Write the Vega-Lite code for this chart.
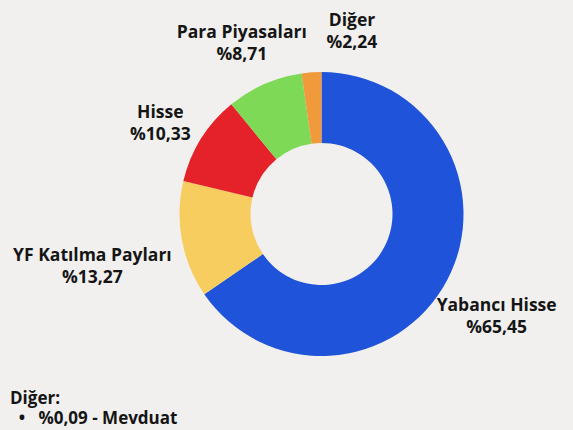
{
  "$schema": "https://vega.github.io/schema/vega-lite/v6.json",
  "autosize": "none",
  "width": 573,
  "height": 428,
  "padding": {"left": 35, "top": 0, "right": 0, "bottom": 2},
  "background": "#f1f0ef",
  "view": {"stroke": null},
  "title": {
    "text": ["Diğer:", "\u200b\u00a0\u00a0•\u00a0\u00a0\u00a0%0,09 - Mevduat"],
    "orient": "bottom",
    "anchor": "start",
    "frame": "group",
    "offset": -37,
    "dx": -25,
    "font": "Open Sans",
    "fontSize": 17,
    "fontWeight": "bold",
    "color": "#151515",
    "lineHeight": 20
  },
  "data": {
    "values": [
      {"name": "Yabancı Hisse", "value": 65.45, "order": 1},
      {"name": "YF Katılma Payları", "value": 13.27, "order": 2},
      {"name": "Hisse", "value": 10.33, "order": 3},
      {"name": "Para Piyasaları", "value": 8.71, "order": 4},
      {"name": "Diğer", "value": 2.24, "order": 5}
    ]
  },
  "transform": [
    {"calculate": "[datum.name, '%' + replace(format(datum.value, '.2f'), '.', ',')]", "as": "lbl"}
  ],
  "encoding": {
    "theta": {"field": "value", "type": "quantitative", "stack": true},
    "order": {"field": "order", "type": "quantitative"}
  },
  "layer": [
    {
      "mark": {"type": "arc", "outerRadius": 142, "innerRadius": 71},
      "encoding": {
        "color": {
          "field": "name",
          "type": "nominal",
          "scale": {
            "domain": ["Yabancı Hisse", "YF Katılma Payları", "Hisse", "Para Piyasaları", "Diğer"],
            "range": ["#1f53d9", "#f6cd5e", "#e52229", "#7ed957", "#f09a3c"]
          },
          "legend": null
        }
      }
    },
    {
      "mark": {"type": "text", "radius": 198, "font": "Open Sans", "fontSize": 17.5, "fontWeight": "bold", "color": "#151515", "lineHeight": 22, "baseline": "middle"},
      "encoding": {"text": {"condition": {"test": "datum.name == 'Yabancı Hisse' || datum.name == 'Para Piyasaları'", "field": "lbl"}, "value": ""}}
    },
    {
      "mark": {"type": "text", "radius": 190, "font": "Open Sans", "fontSize": 17.5, "fontWeight": "bold", "color": "#151515", "lineHeight": 22, "baseline": "middle"},
      "encoding": {"text": {"condition": {"test": "datum.name == 'Hisse'", "field": "lbl"}, "value": ""}}
    },
    {
      "mark": {"type": "text", "radius": 233, "font": "Open Sans", "fontSize": 17.5, "fontWeight": "bold", "color": "#151515", "lineHeight": 22, "baseline": "middle"},
      "encoding": {"text": {"condition": {"test": "datum.name == 'YF Katılma Payları'", "field": "lbl"}, "value": ""}}
    },
    {
      "mark": {"type": "text", "radius": 193, "dx": 44, "font": "Open Sans", "fontSize": 17.5, "fontWeight": "bold", "color": "#151515", "lineHeight": 22, "baseline": "middle"},
      "encoding": {"text": {"condition": {"test": "datum.name == 'Diğer'", "field": "lbl"}, "value": ""}}
    }
  ]
}
